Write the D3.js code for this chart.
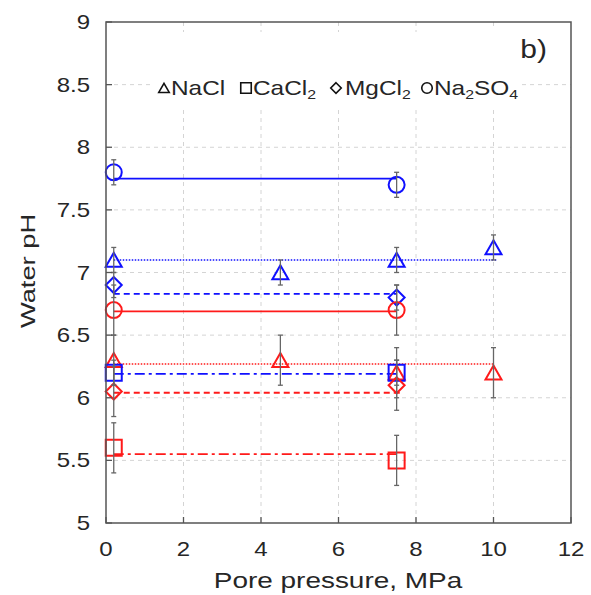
<!DOCTYPE html>
<html>
<head>
<meta charset="utf-8">
<script src="https://cdn.jsdelivr.net/npm/d3@7"></script>
<style>
  body { margin: 0; background: #fff; }
  text { font-family: Arial, "Liberation Sans", sans-serif; fill: #262626; }
</style>
</head>
<body>
<div id="chart"></div>
<script>
// pore pressure (MPa) and water pH
const naclX = [0.2, 4.5, 7.5, 10];
const naclBlue = [7.1, 7.0, 7.1, 7.2];
const naclRed = [6.3, 6.3, 6.2, 6.2];
const pairX = [0.2, 7.5];
const cacl2Blue = [6.2, 6.2];
const cacl2Red = [5.6, 5.5];
const mgcl2Blue = [6.9, 6.8];
const mgcl2Red = [6.05, 6.1];
const na2so4Blue = [7.8, 7.7];
const na2so4Red = [6.7, 6.7];
const errBlue = 0.1;
const errRed = 0.2;

// horizontal fit lines: level and x range
const fitLevels = [7.1, 6.27, 6.19, 5.55, 6.83, 6.04, 7.75, 6.69];
const fitEnds = [10.1, 10, 7.5, 7.5, 7.5, 7.6, 7.5, 7.5];

const xTicks = [0, 2, 4, 6, 8, 10, 12];
const yTicks = [5, 5.5, 6, 6.5, 7, 7.5, 8, 8.5, 9];

const width = 591, height = 595;
const margin = { top: 22, right: 20, bottom: 72, left: 106 };
const plotW = 571 - margin.left, plotH = 523 - margin.top;

const blue = '#1010ff', red = '#ff1a1a';

const series = [
  { x: naclX, y: naclBlue, err: errBlue, color: blue, shape: 'tri', fit: 0, dash: '1.5,1.5' },
  { x: naclX, y: naclRed, err: errRed, color: red, shape: 'tri', fit: 1, dash: '1.5,1.5' },
  { x: pairX, y: cacl2Blue, err: errBlue, color: blue, shape: 'sq', fit: 2, dash: '10,4,3,4' },
  { x: pairX, y: cacl2Red, err: errRed, color: red, shape: 'sq', fit: 3, dash: '10,4,3,4' },
  { x: pairX, y: mgcl2Blue, err: errBlue, color: blue, shape: 'dia', fit: 4, dash: '6,4' },
  { x: pairX, y: mgcl2Red, err: errRed, color: red, shape: 'dia', fit: 5, dash: '6,4' },
  { x: pairX, y: na2so4Blue, err: errBlue, color: blue, shape: 'circ', fit: 6, dash: null },
  { x: pairX, y: na2so4Red, err: errRed, color: red, shape: 'circ', fit: 7, dash: null }
];

const svg = d3.select('#chart')
  .append('svg')
  .attr('width', width)
  .attr('height', height);

const g = svg.append('g')
  .attr('transform', `translate(${margin.left},${margin.top})`);

const x = d3.scaleLinear().domain([0, 12]).range([0, plotW]);
const y = d3.scaleLinear().domain([5, 9]).range([plotH, 0]);

// grid
g.selectAll('.gx')
  .data(xTicks.slice(1, -1))
  .enter()
  .append('line')
  .attr('x1', d => x(d)).attr('x2', d => x(d))
  .attr('y1', 0).attr('y2', plotH)
  .attr('stroke', '#d4d4d4')
  .attr('stroke-dasharray', '4,4');

g.selectAll('.gy')
  .data(yTicks.slice(1, -1))
  .enter()
  .append('line')
  .attr('x1', 0).attr('x2', plotW)
  .attr('y1', d => y(d)).attr('y2', d => y(d))
  .attr('stroke', '#d4d4d4')
  .attr('stroke-dasharray', '4,4');

// white boxes behind legend and panel label
g.append('rect').attr('x', 150 - margin.left).attr('y', 32 - margin.top)
  .attr('width', 372).attr('height', 74).attr('fill', '#fff');
g.append('rect').attr('x', 480 - margin.left).attr('y', 30 - margin.top)
  .attr('width', 86).attr('height', 42).attr('fill', '#fff');

// fit lines
series.forEach(s => {
  g.append('line')
    .attr('x1', x(s.x[0])).attr('x2', x(fitEnds[s.fit]))
    .attr('y1', y(fitLevels[s.fit])).attr('y2', y(fitLevels[s.fit]))
    .attr('stroke', s.color)
    .attr('stroke-width', s.dash === '1.5,1.5' ? 1.5 : 1.8)
    .attr('stroke-dasharray', s.dash);
});

function symbol(shape, size) {
  const h = size / 2;
  if (shape === 'tri') return `M0,${-h * 0.9}L${h},${h * 0.85}L${-h},${h * 0.85}Z`;
  if (shape === 'sq') return `M${-h},${-h}H${h}V${h}H${-h}Z`;
  if (shape === 'dia') return `M0,${-h}L${h},0L0,${h}L${-h},0Z`;
  return `M${h},0A${h},${h} 0 1,1 ${-h},0A${h},${h} 0 1,1 ${h},0Z`;
}

// markers
series.forEach(s => {
  const pts = s.x.map((v, i) => ({ x: v, y: s.y[i] }));
  g.selectAll(null)
    .data(pts)
    .enter()
    .append('path')
    .attr('transform', d => `translate(${x(d.x)},${y(d.y)})`)
    .attr('d', symbol(s.shape, 16))
    .attr('fill', 'none')
    .attr('stroke', s.color)
    .attr('stroke-width', 2);
});

// error bars
series.forEach(s => {
  const pts = s.x.map((v, i) => ({ x: v, y: s.y[i] }));
  const eb = g.selectAll(null).data(pts).enter().append('g')
    .attr('stroke', '#666').attr('stroke-width', 1.3);
  eb.append('line')
    .attr('x1', d => x(d.x)).attr('x2', d => x(d.x))
    .attr('y1', d => y(d.y + s.err)).attr('y2', d => y(d.y - s.err));
  [1, -1].forEach(k => {
    eb.append('line')
      .attr('x1', d => x(d.x) - 2.5).attr('x2', d => x(d.x) + 2.5)
      .attr('y1', d => y(d.y + k * s.err)).attr('y2', d => y(d.y + k * s.err));
  });
});

// frame and inward ticks
g.append('rect')
  .attr('width', plotW).attr('height', plotH)
  .attr('fill', 'none').attr('stroke', '#555').attr('stroke-width', 1.5);

g.selectAll('.ty')
  .data(yTicks)
  .enter()
  .append('line')
  .attr('x1', 0).attr('x2', 6)
  .attr('y1', d => y(d)).attr('y2', d => y(d))
  .attr('stroke', '#555').attr('stroke-width', 1.3);

g.selectAll('.tx')
  .data(xTicks)
  .enter()
  .append('line')
  .attr('x1', d => x(d)).attr('x2', d => x(d))
  .attr('y1', plotH).attr('y2', plotH - 6)
  .attr('stroke', '#555').attr('stroke-width', 1.3);

// tick labels (source text is a little wide, hence scale)
g.selectAll('.ly')
  .data(yTicks)
  .enter()
  .append('text')
  .attr('transform', d => `translate(-16,${y(d) + 7}) scale(1.2,1)`)
  .attr('text-anchor', 'end')
  .style('font-size', '20px')
  .text(d => d);

g.selectAll('.lx')
  .data(xTicks)
  .enter()
  .append('text')
  .attr('transform', d => `translate(${x(d)},${plotH + 33}) scale(1.2,1)`)
  .attr('text-anchor', 'middle')
  .style('font-size', '20px')
  .text(d => d);

// axis titles
svg.append('text')
  .attr('transform', 'translate(338,588) scale(1.3,1)')
  .attr('text-anchor', 'middle')
  .style('font-size', '21.5px')
  .text('Pore pressure, MPa');

svg.append('text')
  .attr('transform', 'translate(35,271) rotate(-90) scale(1.3,1)')
  .attr('text-anchor', 'middle')
  .style('font-size', '21px')
  .text('Water pH');

// panel label
svg.append('text')
  .attr('transform', 'translate(547,58) scale(1.2,1)')
  .attr('text-anchor', 'end')
  .style('font-size', '25px')
  .text('b)');

// legend
const legendShapes = ['tri', 'sq', 'dia', 'circ'];
const legendNames = [['NaCl'], ['CaCl', '2'], ['MgCl', '2'], ['Na', '2', 'SO', '4']];
const legendSymX = [164, 246, 336, 427];
const legendTextX = [171, 253, 345, 434];

legendShapes.forEach((shape, i) => {
  svg.append('path')
    .attr('transform', `translate(${legendSymX[i]},88)`)
    .attr('d', symbol(shape, 10.5))
    .attr('fill', 'none')
    .attr('stroke', '#111')
    .attr('stroke-width', 1.6);
  const t = svg.append('text')
    .attr('transform', `translate(${legendTextX[i]},95) scale(1.22,1)`)
    .style('font-size', '20px');
  legendNames[i].forEach((part, j) => {
    const sub = j % 2 === 1;
    t.append('tspan')
      .attr('dy', sub ? 4 : (j > 0 ? -4 : 0))
      .style('font-size', sub ? '13px' : '20px')
      .text(part);
  });
});
</script>
</body>
</html>
